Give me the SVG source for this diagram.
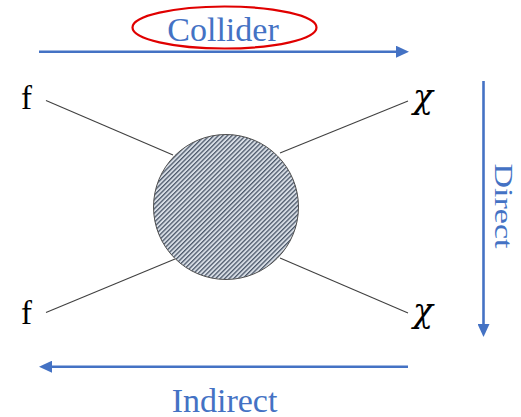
<svg xmlns="http://www.w3.org/2000/svg" width="521" height="417" viewBox="0 0 521 417">
  <style>
    .lbl { font-family: "Liberation Serif", "Times New Roman", serif; fill: #000; font-size: 33px; }
    .chi { font-family: "DejaVu Serif", "Liberation Serif", serif; font-style: italic; fill: #000; font-size: 33px; }
    .blue { font-family: "Liberation Serif", "Times New Roman", serif; fill: #4472C4; font-size: 34px; }
    .leg { stroke: #404040; stroke-width: 1.1; fill: none; }
    .arr { stroke: #4472C4; stroke-width: 2.6; fill: none; marker-end: url(#ah); }
  </style>
  <defs>
    <marker id="ah" markerUnits="userSpaceOnUse" markerWidth="13" markerHeight="12" refX="0" refY="6" orient="auto">
      <path d="M0,0 L13,6 L0,12 z" fill="#4472C4"/>
    </marker>
    <pattern id="hatch" patternUnits="userSpaceOnUse" width="3.2" height="10" patternTransform="rotate(45)">
      <rect width="3.2" height="10" fill="#d8dee6"/>
      <rect width="1.3" height="10" fill="#4d596b"/>
    </pattern>
  </defs>
  <rect width="521" height="417" fill="#fff"/>
  <g id="connectors">
    <line class="leg" x1="46" y1="100.5" x2="173" y2="155"/>
    <line class="leg" x1="46" y1="312.5" x2="175" y2="259"/>
    <line class="leg" x1="280" y1="153" x2="408" y2="101"/>
    <line class="leg" x1="280" y1="258" x2="408" y2="313"/>
    <line class="arr" x1="39" y1="51.7" x2="396" y2="51.7"/>
    <line class="arr" x1="483.5" y1="81" x2="483.5" y2="324"/>
    <line class="arr" x1="408" y1="366.7" x2="52" y2="366.7"/>
  </g>
  <g id="blob">
    <circle cx="226" cy="207" r="72.5" fill="url(#hatch)" stroke="#505050" stroke-width="1"/>
  </g>
  <g id="f-top"><text class="lbl" x="21" y="109">f</text></g>
  <g id="f-bottom"><text class="lbl" x="21" y="324">f</text></g>
  <g id="chi-top"><text class="chi" x="413" y="108">χ</text></g>
  <g id="chi-bottom"><text class="chi" x="413" y="322">χ</text></g>
  <g id="collider">
    <ellipse cx="224.5" cy="27.5" rx="92" ry="21" fill="none" stroke="#E00000" stroke-width="2.2"/>
    <text class="blue" x="223" y="41" text-anchor="middle">Collider</text>
  </g>
  <g id="direct">
    <text class="blue" text-anchor="middle" transform="translate(494.5,206) rotate(90) scale(1,0.74)">Direct</text>
  </g>
  <g id="indirect">
    <text class="blue" x="224.5" y="411.5" text-anchor="middle">Indirect</text>
  </g>
</svg>
